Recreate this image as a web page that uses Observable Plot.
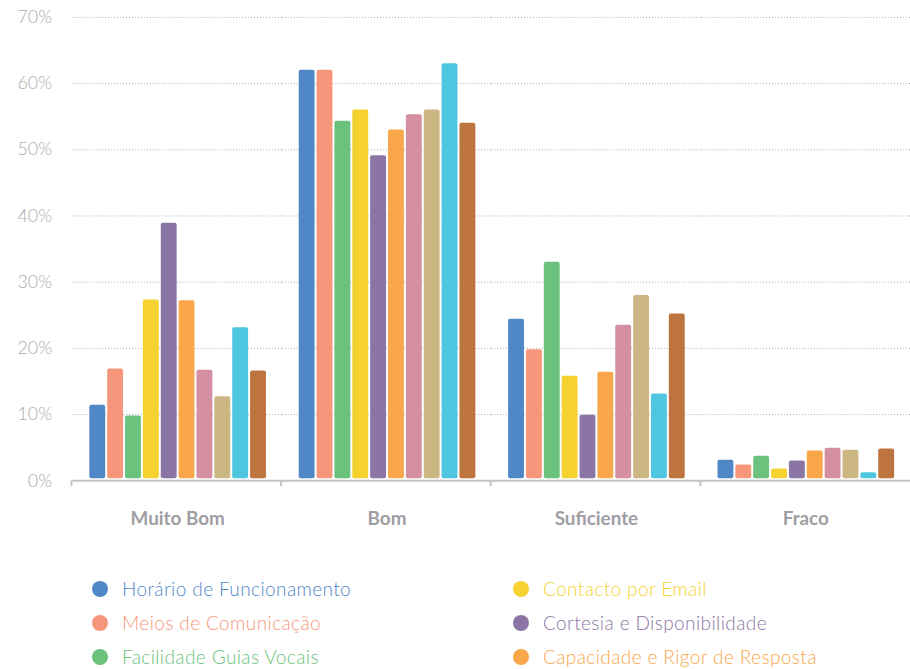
<!DOCTYPE html>
<html><head><meta charset="utf-8">
<script src="https://cdn.jsdelivr.net/npm/d3@7"></script>
<script src="https://cdn.jsdelivr.net/npm/@observablehq/plot@0.6"></script>
<style>
html,body{margin:0;padding:0;background:#fff;overflow:hidden;width:910px;height:669px}
#chart svg{display:block}
.legend{display:grid;grid-template-columns:421px 421px;grid-auto-rows:34px;padding:32px 0 0 92px;font-family:Lato,"Open Sans",sans-serif;font-size:19px;font-weight:300;letter-spacing:0.4px}
.item{display:flex;align-items:center;white-space:nowrap}
.dot{width:16px;height:16px;border-radius:50%;margin-right:14px;flex:none}
</style></head><body>
<div id="chart"></div>
<script>
const groups = ["Muito Bom", "Bom", "Suficiente", "Fraco"];
const series = [
  "Horário de Funcionamento", "Meios de Comunicação", "Facilidade Guias Vocais",
  "Contacto por Email", "Cortesia e Disponibilidade", "Capacidade e Rigor de Resposta",
  "Tempo de Espera", "Clareza da Informação", "Resolução do Pedido", "Satisfação Global"
];
const colors = ["#5088C7", "#F6977C", "#6BC27C", "#F5D22F", "#8B75A5", "#FAA64A", "#D48FA2", "#CCB684", "#4FC6DF", "#BE743E"];
const muitoBom   = [11.4, 16.9, 9.8, 27.3, 38.9, 27.2, 16.7, 12.7, 23.1, 16.6];
const bom        = [62.0, 62.0, 54.3, 56.0, 49.1, 53.0, 55.3, 56.0, 63.0, 54.0];
const suficiente = [24.4, 19.8, 33.0, 15.8, 9.9, 16.4, 23.5, 28.0, 13.1, 25.2];
const fraco      = [3.1, 2.4, 3.7, 1.8, 3.0, 4.5, 4.9, 4.6, 1.2, 4.8];
const yTicks = [0, 10, 20, 30, 40, 50, 60, 70];
// legend order: left column then right column, row by row
const legendOrder = [0, 3, 1, 4, 2, 5, 6, 8, 7, 9];

const rows = [];
[muitoBom, bom, suficiente, fraco].forEach((vals, gi) =>
  vals.forEach((v, si) => rows.push({group: groups[gi], series: series[si], value: v})));

const plot = Plot.plot({
  width: 917, height: 544,
  marginTop: 17, marginBottom: 60, marginLeft: 72, marginRight: 0,
  style: {fontFamily: "Lato, 'Open Sans', sans-serif", background: "transparent", overflow: "visible"},
  fx: {domain: groups, padding: 0, label: null, axis: "bottom", tickSize: 0, tickPadding: 31},
  x: {domain: series, paddingInner: 0.12, paddingOuter: 0.9, axis: null},
  y: {domain: [0, 70], ticks: yTicks, tickFormat: d => d + "%", tickSize: 0, tickPadding: 21, label: null},
  color: {domain: series, range: colors},
  marks: [
    Plot.ruleY(yTicks.filter(d => d > 0), {stroke: "#ababab", strokeDasharray: "1,2"}),
    Plot.barY(rows, {fx: "group", x: "series", y: "value", fill: "series", rx: 2, insetBottom: 2}),
    Plot.ruleY([0], {stroke: "#c4c4c4", strokeWidth: 2})
  ]
});

const svg = d3.select(plot);
svg.selectAll('[aria-label^="y-axis"] text').style("font-size", "18px").style("fill", "#ababab").style("font-weight", "300");
svg.selectAll('[aria-label^="fx-axis"] text').style("font-size", "19px").style("fill", "#9e9ea3").style("font-weight", "700");

// small boundary ticks under the baseline, from the fx and y scales
const fxs = plot.scale("fx");
const ys = plot.scale("y");
const band = d3.scaleBand().domain(fxs.domain).range(fxs.range).padding(0);
const y0 = ys.apply(0);
const tg = svg.append("g").attr("stroke", "#c4c4c4").attr("stroke-width", 2);
groups.forEach(g => {
  const x = band(g);
  tg.append("line").attr("x1", x).attr("x2", x).attr("y1", y0).attr("y2", y0 + 6);
});

document.getElementById("chart").appendChild(plot);

const legend = d3.select("#chart").append("div").attr("class", "legend");
legendOrder.forEach(i => {
  const item = legend.append("div").attr("class", "item").style("color", colors[i]);
  item.append("span").attr("class", "dot").style("background", colors[i]);
  item.append("span").text(series[i]);
});
</script>
</body></html>
